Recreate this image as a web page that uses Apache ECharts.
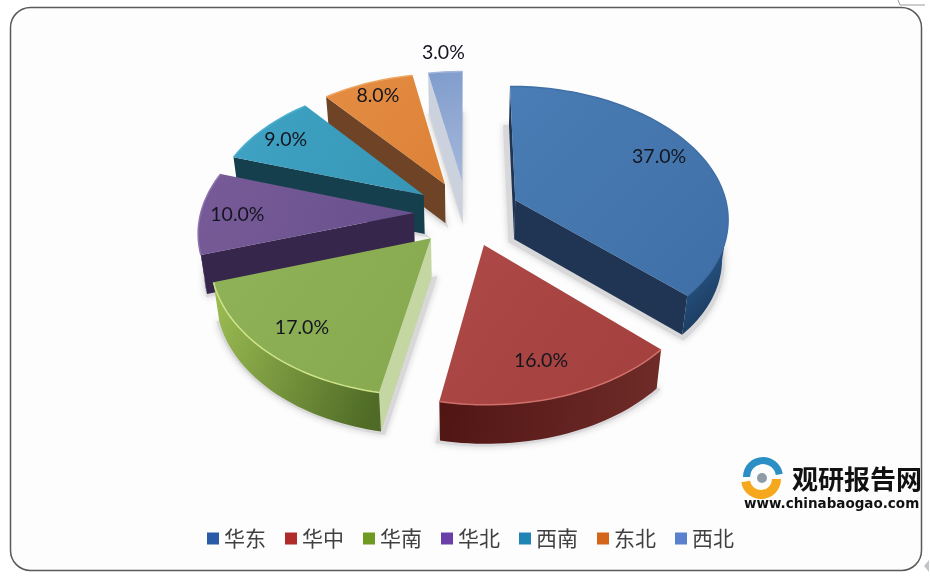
<!DOCTYPE html>
<html>
<head>
<meta charset="utf-8">
<style>
html, body { margin: 0; padding: 0; background: #fff; }
#chart { width: 930px; height: 580px; }
</style>
<script src="https://cdn.jsdelivr.net/npm/echarts@6/dist/echarts.min.js"></script>
</head>
<body>
<div id="chart"></div>
<script>
const categories = ['华东', '华中', '华南', '华北', '西南', '东北', '西北']
const values = [37, 16, 17, 10, 9, 8, 3]

// 颜色
const legendColors = ['#2a5ba6', '#b12b2b', '#6f9a22', '#6a40a8', '#2084b4', '#d4661c', '#5a80d0']
const topLight = ['#4a7db5', '#ad4a47', '#8fb358', '#775b98', '#3fa3c4', '#e48d42', '#7f9ccc']
const topDark = ['#3f6fa6', '#a33f3d', '#86a84e', '#68508c', '#3796b6', '#dc8238', '#a6b8da']
const radialWall = ['#1f3553', '#5a1c1a', '#c4d6a2', '#36264b', '#163f4e', '#6f4426', '#ccd2dd']
const arcWallA = ['#2d6096', '#4f1513', '#98b850', '#3a2850', '#163f4e', '#6f4426', '#ccd2dd']
const arcWallB = ['#1b3a5c', '#702c29', '#4f6b26', '#2e2040', '#163f4e', '#6f4426', '#ccd2dd']
const rimColors = ['#3f6fa6', '#d0706a', '#cfe48a', '#8d73ad', '#4cb0cf', '#eda55f', '#a6b8da']
// 从后往前画
const drawOrder = [6, 5, 4, 3, 0, 2, 1]
const labelShift = [[-3, -4], [-5, -2], [-1, 0], [-6, 2], [-9, -1], [-4, -6], [-5, -39]]

const cx = 467
const cy = 213
const radiusX = 213
const radiusY = 131
const perspective = 0.125
const explode = 0.25
const depth = 39
const bottomShrink = 0.977

const total = values.reduce((a, b) => a + b, 0)

function project(X, Y) {
    const s = 1 / (1 + perspective * Y)
    return [cx + radiusX * X * s, cy - radiusY * Y * s]
}

function toBottom(p) {
    return [cx + (p[0] - cx) * bottomShrink, p[1] + depth]
}

function sliceGeometry(index, value) {
    let before = 0
    for (let i = 0; i < index; i++) before += values[i]
    const start = before / total * Math.PI * 2
    const end = (before + value) / total * Math.PI * 2
    const mid = (start + end) / 2
    const ox = explode * Math.sin(mid)
    const oy = explode * Math.cos(mid)
    const arc = []
    const steps = Math.max(6, Math.ceil((end - start) / 0.03))
    for (let i = 0; i <= steps; i++) {
        const t = start + (end - start) * i / steps
        arc.push(project(ox + Math.sin(t), oy + Math.cos(t)))
    }
    const lr = 0.8
    return {
        apex: project(ox, oy),
        arc: arc,
        label: project(ox + lr * Math.sin(mid), oy + lr * Math.cos(mid))
    }
}

function quad(p, q) {
    return [p, q, toBottom(q), toBottom(p)]
}

function renderSlice(index) {
    return function (params, api) {
        const g = sliceGeometry(index, api.value(0))
        const children = []
        const last = g.arc[g.arc.length - 1]
        const first = g.arc[0]

        // 两个径向侧面
        if (first[0] < g.apex[0]) {
            children.push({ type: 'polygon', shape: { points: quad(g.apex, first) },
                style: { fill: radialWall[index] } })
        }
        if (g.apex[0] < last[0]) {
            children.push({ type: 'polygon', shape: { points: quad(last, g.apex) },
                style: { fill: radialWall[index] } })
        }

        // 外弧侧面
        const visible = []
        for (let i = 0; i < g.arc.length - 1; i++) {
            if (g.arc[i + 1][0] < g.arc[i][0]) {
                if (!visible.length) visible.push(g.arc[i])
                visible.push(g.arc[i + 1])
            }
        }
        if (visible.length > 1) {
            const pts = visible.concat(visible.slice().reverse().map(toBottom))
            children.push({ type: 'polygon', shape: { points: pts },
                style: { fill: new echarts.graphic.LinearGradient(0, 0.3, 1, 0.7, [
                    { offset: 0, color: arcWallA[index] },
                    { offset: 1, color: arcWallB[index] }
                ]) } })
        }

        // 顶面
        children.push({ type: 'polygon', shape: { points: [g.apex].concat(g.arc) },
            style: { fill: new echarts.graphic.LinearGradient(0, 0, 1, 1, [
                { offset: 0, color: topLight[index] },
                { offset: 1, color: topDark[index] }
            ]) } })
        children.push({ type: 'polyline', shape: { points: g.arc },
            style: { fill: null, stroke: rimColors[index], lineWidth: 1.5 } })

        children.push({
            type: 'text',
            x: g.label[0] + labelShift[index][0],
            y: g.label[1] + labelShift[index][1],
            style: {
                text: api.value(0).toFixed(1) + '%',
                fill: '#15151f',
                font: '19.5px Lato, "Open Sans", sans-serif',
                align: 'center',
                verticalAlign: 'middle'
            }
        })
        return { type: 'group', children: children }
    }
}

function renderShadow(params, api) {
    const g = sliceGeometry(api.value(1), api.value(0))
    const pts = [g.apex].concat(g.arc).map(toBottom)
    let mx = 0, my = 0
    pts.forEach(p => { mx += p[0]; my += p[1] })
    mx /= pts.length
    my /= pts.length
    return {
        type: 'polygon',
        shape: { points: pts.map(p => [mx + (p[0] - mx) * 1.04, my + (p[1] - my) * 1.03 + 2]) },
        style: { fill: '#d8d8da', shadowBlur: 7, shadowColor: '#cfcfd1' }
    }
}

const chart = echarts.init(document.getElementById('chart'), null, { renderer: 'canvas' })

const series = [{
    type: 'custom',
    name: 'shadow',
    coordinateSystem: 'none',
    silent: true,
    animation: false,
    z: 1,
    data: values.map((v, i) => [v, i]),
    renderItem: renderShadow
}]
categories.forEach((name, i) => {
    series.push({
        type: 'custom',
        name: name,
        coordinateSystem: 'none',
        animation: false,
        z: 2 + drawOrder.indexOf(i),
        itemStyle: { color: legendColors[i] },
        data: [[values[i]]],
        renderItem: renderSlice(i)
    })
})

chart.setOption({
    animation: false,
    backgroundColor: '#fff',
    legend: {
        data: categories,
        left: 202,
        top: 523,
        icon: 'rect',
        itemWidth: 12,
        itemHeight: 12,
        itemGap: 19,
        textStyle: { color: '#404040', fontSize: 21, fontFamily: '"Noto Sans CJK SC", sans-serif' },
        selectedMode: false
    },
    graphic: [
        { type: 'rect', z: -1, shape: { x: 10.5, y: 7.5, width: 911, height: 563, r: 20 },
            style: { fill: '#fdfdfd', stroke: '#5a5a5a', lineWidth: 1.5 } },
        { type: 'polyline', z: -2, shape: { points: [[898, 0], [900, 5], [925, 5]] },
            style: { fill: null, stroke: '#9a9a9a', lineWidth: 1 } },
        { type: 'polygon', z: -2, shape: { points: [[929, 560], [924, 566], [929, 572]] },
            style: { fill: '#c0c4c8' } },
        // 水印
        { type: 'sector', z: 20, shape: { cx: 763, cy: 477, r: 20, r0: 13, startAngle: Math.PI * 1.0, endAngle: Math.PI * 1.95 },
            style: { fill: '#2b8fc6' } },
        { type: 'sector', z: 20, shape: { cx: 761, cy: 479, r: 20, r0: 11, startAngle: 0, endAngle: Math.PI * 0.95 },
            style: { fill: '#f5a81c' } },
        { type: 'circle', z: 20, shape: { cx: 762, cy: 478, r: 5 }, style: { fill: '#8f9ba6' } },
        { type: 'text', z: 20, x: 792, y: 466, style: { text: '观研报告网', fill: '#111',
            font: 'bold 26px "Noto Sans CJK SC", sans-serif' } },
        { type: 'text', z: 20, x: 744, y: 497, style: { text: 'www.chinabaogao.com', fill: '#111',
            font: 'bold 13.5px "DejaVu Sans", sans-serif' } }
    ],
    series: series
})
</script>
</body>
</html>
